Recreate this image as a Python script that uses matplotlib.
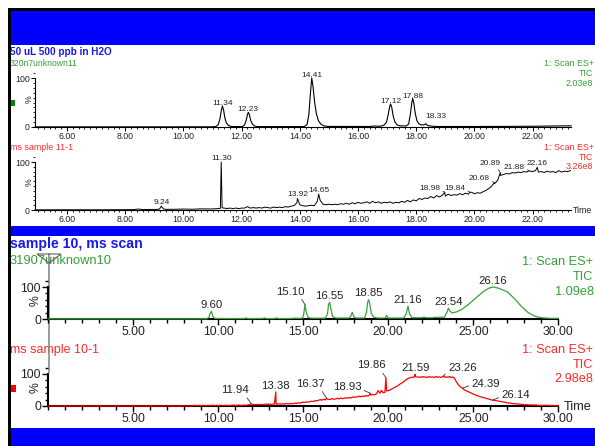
import numpy as np
import matplotlib
matplotlib.use("Agg")
import matplotlib.pyplot as plt
from matplotlib.patches import Rectangle, Polygon
from matplotlib.ticker import FixedLocator, MultipleLocator

plt.rcParams['font.family'] = ['Liberation Sans', 'DejaVu Sans']

W, H = 595, 446

# ---- chromatogram 1: 320n7unknown11 (time min, % of TIC) ----
tic1_pts = [(4.90, 0.3), (8.00, 0.3), (11.00, 0.4), (11.12, 1), (11.20, 5), (11.26, 18),
            (11.30, 33), (11.38, 35), (11.42, 20), (11.47, 9), (11.55, 3), (11.65, 1),
            (12.02, 0.8), (12.10, 4), (12.16, 14), (12.20, 25), (12.27, 25), (12.31, 14),
            (12.37, 6), (12.45, 2), (12.55, 0.8), (14.15, 0.8), (14.25, 5), (14.31, 25),
            (14.36, 65), (14.46, 80), (14.51, 50), (14.57, 27), (14.64, 13), (14.72, 6),
            (14.82, 2.5), (14.95, 1.2), (16.40, 1), (16.55, 2), (16.70, 1.5), (16.80, 2),
            (16.90, 4), (16.98, 10), (17.04, 26), (17.09, 42), (17.16, 40), (17.21, 22),
            (17.27, 10), (17.35, 4), (17.45, 2.5), (17.65, 2), (17.74, 6), (17.80, 26),
            (17.85, 50), (17.92, 48), (17.97, 27), (18.03, 12), (18.10, 6), (18.20, 4),
            (18.27, 4.5), (18.40, 3), (18.55, 1.5), (18.80, 1), (20.00, 1), (21.00, 1.2),
            (22.00, 1.5), (23.32, 2.5)]
tic1_rt = [11.34, 12.23, 14.41, 17.12, 17.88, 18.33]
tic1_pct = [43, 30, 100, 47, 58, 6]

# ---- chromatogram 2: ms sample 11-1 ----
tic2_pts = [(4.90, 0.3), (6.00, 0.5), (7.20, 0.4), (8.30, 0.8), (8.45, 2), (8.60, 1),
            (9.10, 1.3), (9.18, 2), (9.32, 2), (9.40, 1.4), (9.70, 1.5), (10.00, 2),
            (10.30, 1.6), (10.60, 2.4), (10.90, 2.1), (11.20, 2.8), (11.27, 3.5), (11.33, 4.5)]
tic2_grid_start = 11.4   # 0.1 min steps
tic2_grid = [4, 3, 4, 3, 4, 3, 4, 4, 7, 4,
             5, 4, 5, 4, 6, 5, 4, 6, 5, 6,
             5, 7, 6, 8, 9, 15, 11, 9, 8, 9,
             10, 9, 18, 20, 12, 11, 12, 11, 12, 11,
             13, 12, 14, 12, 15, 13, 16, 14, 15, 17,
             14, 18, 15, 17, 14, 16, 15, 17, 14, 16,
             15, 18, 16, 20, 17, 21, 19, 24, 22, 25,
             24, 28, 25, 30, 27, 31, 29, 33, 30, 32,
             31, 34, 32, 35, 33, 37, 34, 36, 35, 38,
             41, 45, 50, 55, 62, 72, 74, 76, 75, 78,
             77, 79, 78, 80, 79, 81, 80, 82, 79, 80,
             78, 81, 79, 80, 78, 82, 79, 81, 80, 82]
tic2_rt = [9.24, 11.30, 13.92, 14.65, 18.98, 19.84, 20.68, 20.89, 21.88, 22.16]
tic2_pct = [8, 100, 24, 33, 37, 37, 57, 78, 82, 89]

# ---- chromatogram 3: 31907unknown10 ----
tic3_pts = [(0.00, 0.5), (9.30, 0.5), (9.45, 5), (9.52, 18), (9.68, 8), (9.80, 1.5),
            (11.00, 1), (11.50, 1), (11.62, 3), (11.75, 1), (12.60, 1.5), (12.72, 3),
            (12.85, 1.2), (13.30, 1.2), (13.42, 3), (13.55, 1.2), (14.30, 1.5), (14.50, 2.5),
            (14.70, 2), (14.95, 2.5), (15.02, 14), (15.17, 22), (15.28, 5), (15.45, 2.5),
            (16.30, 2.5), (16.42, 16), (16.49, 46), (16.62, 32), (16.72, 8), (16.90, 3),
            (17.70, 3), (17.80, 10), (17.88, 21), (17.97, 8), (18.10, 3), (18.60, 3),
            (18.72, 22), (18.79, 54), (18.92, 44), (19.00, 18), (19.15, 5), (19.40, 3),
            (19.80, 3), (19.90, 11), (20.00, 3), (20.90, 3), (21.05, 16), (21.25, 16),
            (21.40, 4), (22.00, 4), (22.10, 6), (22.20, 4), (22.60, 4), (22.70, 5),
            (23.30, 6), (23.44, 20), (23.62, 25), (23.75, 19), (24.00, 22), (24.30, 29),
            (24.70, 45), (25.20, 68), (25.60, 86), (25.90, 96), (26.50, 96), (27.00, 85),
            (27.40, 65), (27.80, 41), (28.20, 21), (28.60, 9), (29.00, 4), (29.50, 2),
            (30.00, 2)]
tic3_rt = [9.60, 15.10, 16.55, 18.85, 21.16, 23.54, 26.16]
tic3_pct = [24, 45, 52, 60, 40, 34, 100]

# ---- chromatogram 4: ms sample 10-1 ----
tic4_pts = [(0.00, 0), (8.40, 0)]
tic4_grid_start = 8.5    # 0.1 min steps
tic4_grid = [1, 2, 1, 1, 2, 1, 2, 1, 1, 2,
             1, 2, 2, 1, 2, 1, 2, 2, 1, 2,
             2, 1, 2, 2, 3, 2, 2, 3, 2, 2,
             3, 2, 3, 4, 6, 4, 5, 4, 5, 4,
             5, 4, 5, 6, 5, 6, 5, 6, 6, 6,
             6, 7, 6, 7, 6, 8, 7, 7, 8, 7,
             9, 8, 10, 9, 11, 12, 11, 13, 12, 14,
             15, 14, 17, 16, 18, 20, 18, 21, 19, 22,
             20, 21, 23, 21, 22, 24, 22, 25, 23, 24,
             26, 24, 27, 25, 28, 27, 29, 28, 31, 29,
             31, 30, 33, 31, 35, 34, 36, 35, 38, 48,
             40, 49, 41, 43, 47, 48, 50, 53, 56, 59,
             61, 65, 69, 72, 76, 80, 84, 87, 89, 90,
             89, 92, 90, 91, 89, 92, 90, 91, 89, 92,
             90, 91, 89, 92, 90, 91, 89, 92, 90, 91,
             90, 92, 89, 91, 86, 76, 68, 62, 57, 53,
             50, 47, 45, 42, 40, 37, 35, 33, 31, 29,
             28, 26, 25, 23, 22, 20, 19, 18, 17, 16,
             15, 14, 13, 12, 11, 10, 9, 9, 8, 7,
             7, 6, 6, 5, 5, 4, 4, 4, 3, 3,
             3, 3, 3, 2, 2, 2, 2, 2, 2, 2,
             2, 1, 1, 1, 1, 0]
tic4_rt = [11.94, 13.38, 16.37, 18.93, 19.86, 21.59, 23.26, 24.39, 26.14]
tic4_pct = [7, 44, 24, 40, 88, 99, 94, 56, 18]

titles = ["50 uL 500 ppb in H2O", "sample 10, ms scan"]
trace_names = ["320n7unknown11", "ms sample 11-1", "31907unknown10", "ms sample 10-1"]
scan_info = [("1: Scan ES+", "TIC", "2.03e8"), ("1: Scan ES+", "TIC", "3.26e8"),
             ("1: Scan ES+", "TIC", "1.09e8"), ("1: Scan ES+", "TIC", "2.98e8")]

# label leader offsets in pixels (dx, dy, relpos on text)
lead1 = {18.33: (10, 6, (0, 0.3))}
lead2 = {18.98: (-15, 2.5, (1, 0.3)), 19.84: (-15, 2.6, (1, 0.3)), 20.68: (-15, 2.8, (1, 0.3)),
         20.89: (-10, 7.7, (0.8, 0)), 21.88: (-15, 2, (1, 0.3))}
lead3 = {15.10: (-15, 10, (0.85, 0))}
lead4 = {11.94: (-16, 10.7, (0.85, 0)), 16.37: (-16, 11.5, (0.85, 0)), 18.93: (-23, 3, (1, 0.3)),
         19.86: (-15, 9.4, (0.85, 0)), 23.26: (18.6, 4.5, (0, 0.3)), 24.39: (23, 1.3, (0, 0.4)),
         26.14: (23, 1.8, (0, 0.4))}

BLUE = '#0000ff'
TITLE_BLUE = '#1a1ae8'
GREEN = '#35a035'
RED = '#ff2a2a'
INK = '#222222'


def build(pts, rts, pcts, grid=None, start=None):
    t = [p[0] for p in pts]
    y = [p[1] for p in pts]
    if grid is not None:
        t += list(np.round(start + 0.1 * np.arange(len(grid)), 2))
        y += list(grid)
    t = np.array(t + list(rts), float)
    y = np.array(y + list(pcts), float)
    o = np.argsort(t, kind='stable')
    return t[o], y[o]


def px_axes(fig, x0, x1, ytop, ybot):
    return fig.add_axes([x0 / W, 1 - ybot / H, (x1 - x0) / W, (ybot - ytop) / H])


def style(ax, xlim, ytop_pct, big):
    ax.set_xlim(*xlim)
    ax.set_ylim(0, ytop_pct)
    ax.patch.set_alpha(0)
    for s in ('top', 'right'):
        ax.spines[s].set_visible(False)
    lw = 1.5 if big else 0.8
    ax.spines['left'].set_bounds(0, 100)
    ax.spines['left'].set_linewidth(lw)
    ax.spines['bottom'].set_linewidth(lw)
    ax.set_yticks([0, 100])
    ax.set_yticklabels(['0', '100'])
    if big:
        ax.xaxis.set_major_locator(FixedLocator([5, 10, 15, 20, 25, 30]))
        ax.xaxis.set_minor_locator(MultipleLocator(1))
        ax.yaxis.set_minor_locator(MultipleLocator(20))
        fs = 8.8
        ax.tick_params(axis='x', which='major', length=4.3, width=1.0, pad=0.5)
        ax.tick_params(axis='x', which='minor', length=2.9, width=1.0)
        ax.tick_params(axis='y', which='major', length=4.3, width=1.0, pad=1)
        ax.tick_params(axis='y', which='minor', length=2.2, width=1.0)
    else:
        ax.xaxis.set_major_locator(FixedLocator(np.arange(6, 23, 2)))
        ax.xaxis.set_minor_locator(MultipleLocator(0.2))
        ax.yaxis.set_minor_locator(MultipleLocator(10))
        fs = 6.3
        ax.tick_params(axis='x', which='major', length=2.8, width=0.7, pad=1)
        ax.tick_params(axis='x', which='minor', length=1.5, width=0.6)
        ax.tick_params(axis='y', which='major', length=2.8, width=0.7, pad=1)
        ax.tick_params(axis='y', which='minor', length=1.5, width=0.6)
    ax.xaxis.set_major_formatter(lambda v, p: f"{v:.2f}")
    ax.tick_params(which='both', direction='out', labelsize=fs, colors='black', labelcolor=INK)
    pct_dx = -13 if big else -6
    ax.annotate('%', xy=(0, 57), xycoords=('axes fraction', 'data'), xytext=(pct_dx, 0),
                textcoords='offset pixels', rotation=90, ha='center', va='center',
                fontsize=fs, color=INK)


def label_peaks(ax, rts, pcts, lead, fs, dy_direct):
    for rt, h in zip(rts, pcts):
        txt = f"{rt:.2f}"
        if rt in lead:
            dx, dy, rp = lead[rt]
            ax.annotate(txt, xy=(rt, h), xytext=(dx, dy), textcoords='offset pixels',
                        ha='center', va='baseline', fontsize=fs, color=INK,
                        annotation_clip=False,
                        arrowprops=dict(arrowstyle='-', color='#333333', lw=0.6,
                                        shrinkA=0, shrinkB=0, relpos=rp))
        else:
            ax.annotate(txt, xy=(rt, h), xytext=(0, dy_direct), textcoords='offset pixels',
                        ha='center', va='baseline', fontsize=fs, color=INK,
                        annotation_clip=False)


fig = plt.figure(figsize=(W / 100, H / 100), dpi=100)

# page decoration in pixel coordinates
deco = fig.add_axes([0, 0, 1, 1])
deco.set_xlim(0, W)
deco.set_ylim(H, 0)
deco.axis('off')
for y0, y1 in [(11, 45), (226, 235.5), (428, 446)]:
    deco.add_patch(Rectangle((11, y0), W - 11, y1 - y0, color=BLUE, lw=0))
deco.add_patch(Rectangle((8, 8), W - 8, 3, color='black', lw=0, zorder=5))
deco.add_patch(Rectangle((8, 8), 3, H - 8, color='black', lw=0, zorder=5))
deco.add_patch(Rectangle((10, 100), 5, 6, color='#008a00', lw=0))
deco.add_patch(Rectangle((10, 385), 6, 7, color='#ff0000', lw=0))

deco.text(9.5, 52, titles[0], fontsize=7.2, fontweight='bold', color=TITLE_BLUE, va='center')
deco.text(9.5, 64, trace_names[0], fontsize=6.2, color=GREEN, va='center')
deco.text(9.5, 148, trace_names[1], fontsize=6.4, color=RED, va='center')
deco.text(9.5, 244, titles[1], fontsize=10.2, fontweight='bold', color=TITLE_BLUE, va='center')
deco.text(9.5, 261, trace_names[2], fontsize=9.3, color=GREEN, va='center')
deco.text(9.5, 350, trace_names[3], fontsize=9.0, color=RED, va='center')

info_pos = [((63.3, 73.3, 83.3), 6.4, GREEN), ((147.7, 157.3, 166.7), 6.4, RED),
            ((261.7, 276.7, 291.7), 9.2, GREEN), ((350, 365, 379.3), 9.2, RED)]
for lines, (ys, fs, col) in zip(scan_info, info_pos):
    for s, yy in zip(lines, ys):
        deco.text(593.5, yy, s, fontsize=fs, color=col, ha='right', va='center')
deco.text(573, 210.7, "Time", fontsize=6.4, color=INK, va='center')
deco.text(564, 407.3, "Time", fontsize=9.2, color=INK, va='center')

# cursor marker across the lower pair
deco.plot([48.8, 48.8], [254, 372], color='#8a8a8a', lw=1.2, zorder=4)
deco.add_patch(Polygon([(37, 254), (61, 254), (49, 263)], closed=True, fill=False,
                       edgecolor='#606060', lw=0.8, zorder=4))

# ---- panels ----
x_small = (6 + (35 - 67) / 29.1, 6 + (571 - 67) / 29.1)

ax1 = px_axes(fig, 35, 571, 70, 127)
style(ax1, x_small, (127 - 70) / 49 * 100, False)
t1, y1 = build(tic1_pts, tic1_rt, tic1_pct)
ax1.plot(t1, y1, color='black', lw=0.8, clip_on=False, zorder=3)
label_peaks(ax1, tic1_rt, tic1_pct, lead1, 6.0, 1)

ax2 = px_axes(fig, 35, 571, 153, 210)
style(ax2, x_small, (210 - 153) / 48 * 100, False)
t2, y2 = build(tic2_pts, tic2_rt, tic2_pct, tic2_grid, tic2_grid_start)
ax2.plot(t2, y2, color='black', lw=0.7, clip_on=False, zorder=3)
label_peaks(ax2, tic2_rt, tic2_pct, lead2, 6.0, 2)

ax3 = px_axes(fig, 48.3, 558.3, 276, 319)
style(ax3, (0, 30), (319 - 276) / 32 * 100, True)
t3, y3 = build(tic3_pts, tic3_rt, tic3_pct)
ax3.plot(t3, y3, color='#3aa03a', lw=0.9, clip_on=False, zorder=3)
label_peaks(ax3, tic3_rt, tic3_pct, lead3, 8.2, 3.5)

ax4 = px_axes(fig, 48.3, 558.3, 366, 406)
style(ax4, (0, 30), (406 - 366) / 32 * 100, True)
t4, y4 = build(tic4_pts, tic4_rt, tic4_pct, tic4_grid, tic4_grid_start)
ax4.plot(t4, y4, color='#ff0000', lw=0.9, clip_on=False, zorder=3)
label_peaks(ax4, tic4_rt, tic4_pct, lead4, 8.2, 3)

fig.savefig('out.png', dpi=100)
